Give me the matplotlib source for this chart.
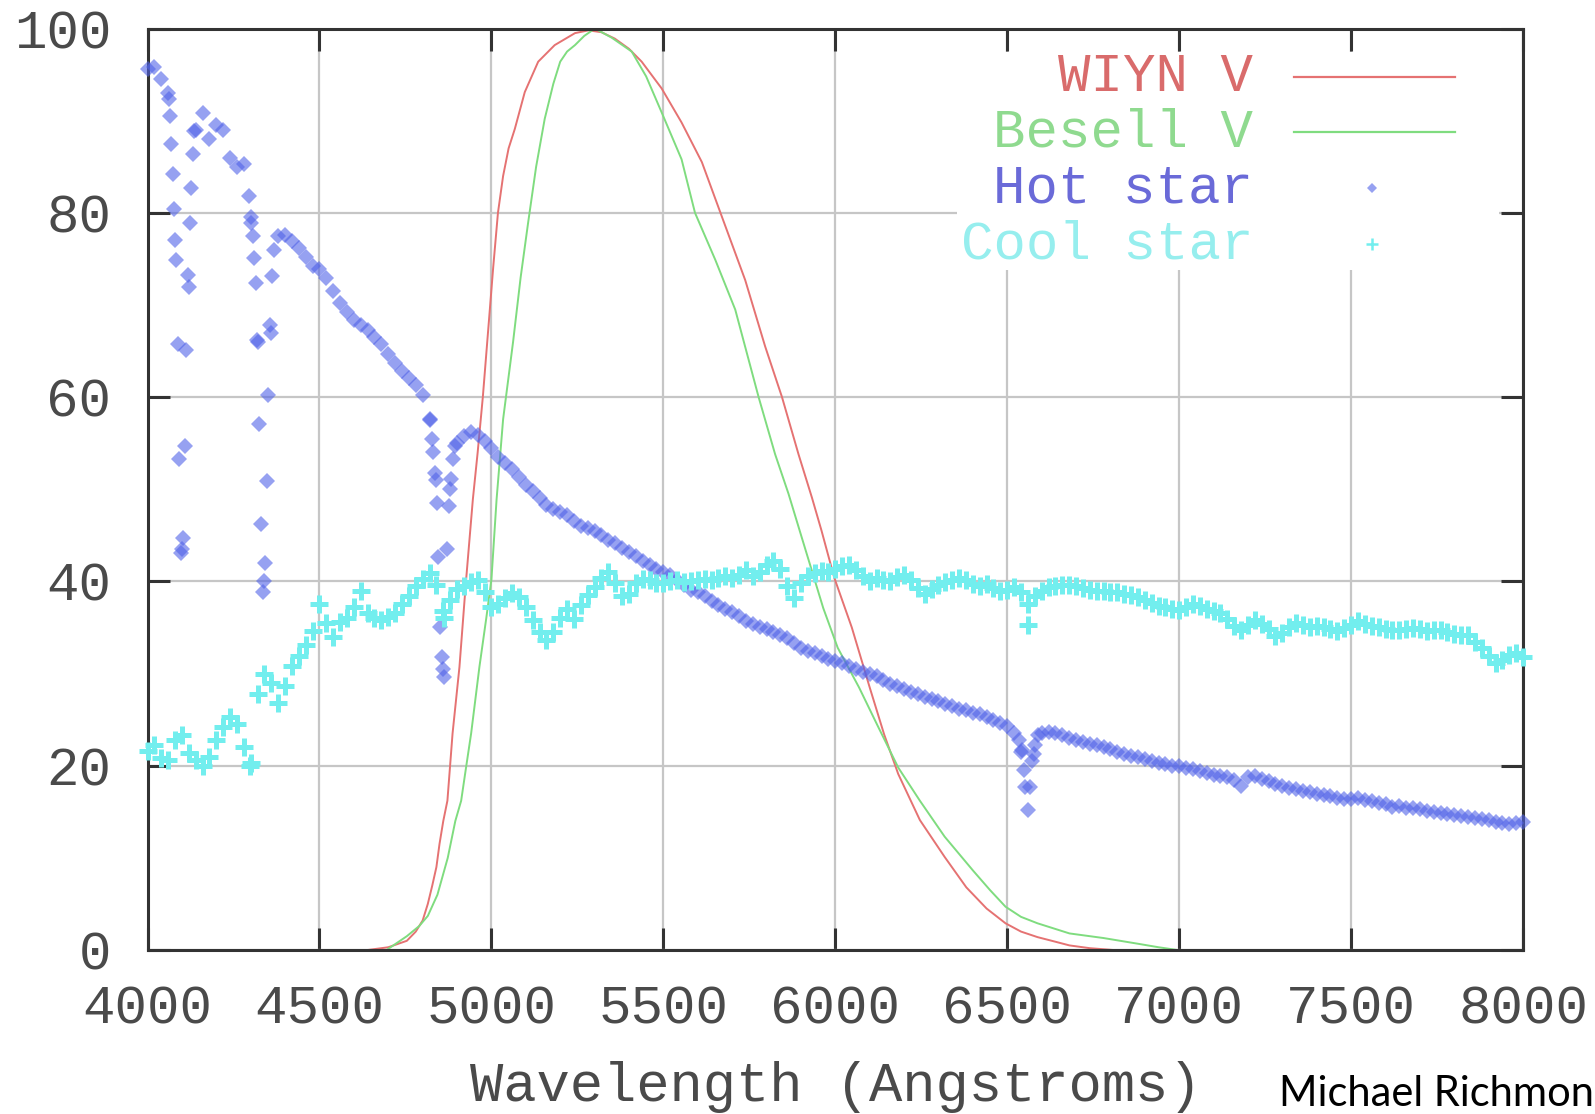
import numpy as np
import matplotlib.pyplot as plt
from matplotlib.patches import Rectangle

plt.rcParams['font.family'] = ['Liberation Mono', 'DejaVu Sans Mono']

# spectra sampled every 20 Angstroms from 4000 to 8000
star_wave = np.arange(4000, 8001, 20)

hot_flux = [
    95.6, 95.8, 94.5, 93.0, 77.0, 43.5, 72.0, 89.0, 90.8, 88.0,
    89.5, 89.0, 86.0, 85.0, 85.3, 79.5, 66.0, 40.0, 67.0, 77.5,
    77.6, 76.9, 76.2, 75.2, 74.2, 73.9, 72.9, 71.5, 70.2, 69.2,
    68.4, 67.8, 67.3, 66.5, 65.8, 64.7, 63.7, 62.8, 62.1, 61.3,
    60.2, 57.5, 51.0, 30.5, 50.0, 55.0, 55.8, 56.2, 55.9, 55.2,
    54.5, 53.5, 52.8, 52.2, 51.3, 50.5, 49.8, 49.0, 48.3, 47.9,
    47.5, 47.2, 46.6, 46.0, 45.8, 45.5, 45.0, 44.5, 44.2, 43.6,
    43.2, 42.8, 42.2, 41.8, 41.4, 41.0, 40.7, 40.2, 39.6, 39.1,
    38.8, 38.4, 37.9, 37.4, 37.0, 36.7, 36.2, 35.7, 35.4, 35.0,
    34.8, 34.5, 34.2, 33.9, 33.3, 32.8, 32.5, 32.2, 31.9, 31.6,
    31.4, 31.1, 30.8, 30.5, 30.2, 30.0, 29.7, 29.3, 28.9, 28.6,
    28.3, 28.0, 27.8, 27.5, 27.2, 27.0, 26.7, 26.5, 26.2, 26.0,
    25.7, 25.6, 25.3, 25.0, 24.6, 24.3, 23.6, 21.5, 15.2, 22.3,
    23.6, 23.7, 23.5, 23.3, 23.0, 22.8, 22.6, 22.4, 22.2, 22.0,
    21.8, 21.5, 21.3, 21.1, 20.9, 20.7, 20.5, 20.3, 20.2, 20.0,
    20.0, 19.8, 19.6, 19.4, 19.2, 19.0, 18.9, 18.8, 18.5, 17.8,
    18.8, 18.9, 18.6, 18.3, 18.0, 17.8, 17.6, 17.5, 17.3, 17.1,
    16.9, 16.8, 16.7, 16.5, 16.4, 16.4, 16.5, 16.3, 16.2, 16.0,
    15.8, 15.5, 15.6, 15.4, 15.4, 15.3, 15.1, 15.0, 14.9, 14.8,
    14.7, 14.5, 14.4, 14.3, 14.2, 14.1, 13.9, 13.8, 13.7, 13.8,
    13.9,
]

# extra samples through the Balmer lines of the hot star
hot_line_wave = [
    4063, 4066, 4069, 4073, 4077, 4083, 4088, 4092, 4096, 4103, 4108, 4112,
    4118, 4124, 4127, 4131, 4135,
    4296, 4302, 4306, 4310, 4314, 4319, 4325, 4330, 4336, 4343, 4346, 4351,
    4356, 4362, 4368,
    4820, 4826, 4831, 4836, 4841, 4846, 4851, 4857, 4863, 4870, 4876, 4882,
    4888, 4895,
    6535, 6542, 6548, 6553, 6566, 6571, 6577, 6588,
]
hot_line_flux = [
    92.4, 90.5, 87.5, 84.2, 80.4, 74.9, 65.8, 53.3, 43.1, 44.7, 54.7, 65.1,
    73.3, 78.9, 82.7, 86.4, 88.9,
    81.8, 78.9, 77.5, 75.1, 72.4, 66.2, 57.1, 46.2, 38.9, 42.0, 50.9, 60.2,
    67.8, 73.1, 76.0,
    57.6, 55.5, 54.0, 51.8, 48.5, 42.7, 35.1, 31.8, 29.6, 43.5, 48.2, 51.1,
    53.3, 54.7,
    22.8, 21.7, 19.5, 17.7, 17.7, 20.5, 21.3, 23.3,
]

cool_flux = [
    21.6, 22.2, 20.8, 20.6, 22.8, 23.3, 21.4, 20.6, 20.0, 21.0,
    22.8, 24.2, 25.3, 24.5, 22.0, 20.3, 27.8, 30.0, 29.0, 26.8,
    28.7, 30.8, 31.9, 33.1, 34.6, 37.5, 35.5, 34.0, 35.6, 36.0,
    37.2, 39.0, 36.6, 36.0, 35.8, 36.1, 36.6, 37.6, 38.4, 39.5,
    40.3, 40.9, 39.6, 36.8, 38.0, 39.2, 39.5, 39.9, 40.1, 38.9,
    37.2, 37.5, 38.2, 38.7, 38.3, 37.2, 35.8, 34.5, 33.6, 34.5,
    36.0, 37.0, 35.9, 37.4, 38.5, 39.4, 40.4, 41.0, 39.8, 38.4,
    38.6, 39.8, 40.3, 40.1, 39.8, 39.8, 40.0, 40.2, 39.9, 40.0,
    40.2, 40.3, 40.1, 40.4, 40.6, 40.4, 40.7, 41.2, 40.6, 41.0,
    41.8, 42.2, 41.3, 39.5, 38.2, 39.8, 40.6, 40.9, 41.1, 41.0,
    41.4, 41.7, 41.8, 41.2, 40.6, 40.0, 40.4, 40.2, 40.0, 40.5,
    40.7, 40.2, 39.3, 38.6, 39.2, 39.6, 39.9, 40.1, 40.4, 40.1,
    39.7, 39.5, 39.7, 39.3, 39.0, 39.1, 39.4, 38.9, 37.6, 38.4,
    39.0, 39.4, 39.5, 39.6, 39.6, 39.5, 39.3, 39.1, 39.0, 39.0,
    38.9, 38.8, 38.6, 38.5, 38.3, 38.0, 37.7, 37.3, 37.2, 37.0,
    36.9, 37.2, 37.6, 37.3, 37.0, 36.8, 36.6, 35.9, 35.2, 34.7,
    35.3, 35.8, 35.4, 34.8, 34.1, 34.4, 35.0, 35.5, 35.3, 35.1,
    35.2, 35.1, 34.8, 34.6, 34.9, 35.3, 35.7, 35.4, 35.2, 35.0,
    34.8, 34.7, 34.7, 34.8, 34.9, 34.8, 34.6, 34.7, 34.7, 34.5,
    34.3, 34.2, 34.2, 33.4, 32.8, 31.9, 31.1, 31.5, 32.0, 32.2,
    31.8,
]
cool_extra_wave = [4299, 4862, 6560]
cool_extra_flux = [20.0, 36.0, 35.3]

wiyn_wave = [4640, 4700, 4754, 4780, 4800, 4815, 4828, 4840, 4849, 4860,
             4872, 4887, 4907, 4926, 4946, 4960, 4975, 4990, 5005, 5019,
             5034, 5050, 5068, 5097, 5136, 5184, 5243, 5282, 5320, 5359,
             5400, 5437, 5495, 5553, 5612, 5670, 5738, 5796, 5845, 5893,
             5932, 5960, 5997, 6048, 6100, 6142, 6183, 6246, 6318, 6381,
             6440, 6495, 6540, 6588, 6640, 6681, 6740, 6809]
wiyn_trans = [0, 0.3, 1.0, 2.0, 3.2, 5.0, 7.0, 9.0, 11.5, 14.0,
              16.2, 23.5, 30.7, 40.0, 48.9, 54.0, 60.0, 67.0, 74.0, 80.0,
              84.0, 87.0, 89.1, 93.1, 96.4, 98.2, 99.5, 99.8, 99.6, 98.9,
              97.8, 96.4, 93.5, 89.8, 85.5, 79.6, 72.7, 65.5, 60.0, 53.8,
              49.1, 45.5, 40.4, 35.0, 28.5, 23.4, 19.1, 14.1, 10.1, 6.8,
              4.5, 2.9, 2.0, 1.4, 0.9, 0.5, 0.2, 0]

bessell_wave = [4695, 4754, 4790, 4815, 4843, 4873, 4895, 4912, 4925, 4941,
                4965, 4985, 5000, 5015, 5034, 5063, 5085, 5107, 5130, 5155,
                5180, 5200, 5220, 5243, 5270, 5301, 5350, 5408, 5450, 5495,
                5553, 5592, 5651, 5709, 5777, 5825, 5864, 5903, 5965, 6007,
                6069, 6121, 6183, 6246, 6318, 6401, 6450, 6495, 6540, 6588,
                6681, 6780, 6877, 6940, 6995]
bessell_trans = [0, 1.5, 2.6, 3.7, 6.0, 10.0, 14.0, 16.2, 19.5, 23.5,
                 30.7, 36.0, 40.2, 48.9, 57.6, 66.0, 73.0, 79.0, 85.0, 90.2,
                 94.0, 96.4, 97.5, 98.2, 99.2, 100.0, 99.0, 97.5, 94.8, 90.9,
                 85.8, 80.0, 74.9, 69.5, 60.0, 53.8, 49.5, 44.7, 37.1, 32.8,
                 28.5, 24.5, 19.8, 16.2, 12.3, 8.6, 6.5, 4.7, 3.6, 2.9,
                 1.8, 1.3, 0.7, 0.3, 0]

xticks = [4000, 4500, 5000, 5500, 6000, 6500, 7000, 7500, 8000]
yticks = [0, 20, 40, 60, 80, 100]

key_labels = ['WIYN V', 'Besell V', 'Hot star', 'Cool star']
key_text_colors = ['#d96b6b', '#8fda8f', '#6a6ad8', '#96eeee']

red = '#e57272'
green = '#7fdc7f'
blue = '#5163e8'
cyan = '#72eeee'
ink = '#4a4a4a'

fig = plt.figure(figsize=(15.95, 11.14), dpi=100)
ax = fig.add_axes([0.0925, 0.1472, 0.8624, 0.8272])

ax.plot(wiyn_wave, wiyn_trans, color=red, lw=1.4, zorder=2)
ax.plot(bessell_wave, bessell_trans, color=green, lw=1.4, zorder=2)

hot_w = np.concatenate([star_wave, hot_line_wave])
hot_f = np.concatenate([hot_flux, hot_line_flux])
ax.plot(hot_w, hot_f, ls='none', marker='D', ms=8.5, color=blue, mew=0,
        alpha=0.6, zorder=3, clip_on=False)

cool_w = np.concatenate([star_wave, cool_extra_wave])
cool_f = np.concatenate([cool_flux, cool_extra_flux])
ax.plot(cool_w, cool_f, ls='none', marker='+', ms=13, mew=3.6,
        color=cyan, zorder=4, clip_on=False)

ax.set_xlim(4000, 8000)
ax.set_ylim(0, 100)
ax.set_xticks(xticks)
ax.set_yticks(yticks)
ax.grid(True, color='#c6c6c6', lw=1.6)
ax.set_axisbelow(True)
ax.tick_params(direction='in', length=16, width=2.2, top=True, right=True,
               color='#333333', labelcolor=ink, labelsize=39)
ax.tick_params(axis='x', pad=25)
ax.tick_params(axis='y', pad=26)
for sp in ax.spines.values():
    sp.set_linewidth(2.2)
    sp.set_color('#333333')

ax.set_xlabel('Wavelength (Angstroms)', fontsize=40, color=ink, labelpad=19)

# key, gnuplot style: text on the left, sample on the right
ax.add_patch(Rectangle((0.5885, 0.738), 0.394, 0.2365, transform=ax.transAxes,
                       facecolor='white', edgecolor='none', zorder=1.5))
rows = [0.947, 0.8875, 0.8267, 0.766]
for lab, col, yy in zip(key_labels, key_text_colors, rows):
    ax.text(0.8037, yy, lab, transform=ax.transAxes, ha='right', va='center',
            fontsize=39, color=col, zorder=5)
ax.plot([0.8335, 0.9506], [rows[0]] * 2, color=red, lw=1.6,
        transform=ax.transAxes, zorder=5)
ax.plot([0.8335, 0.9506], [rows[1]] * 2, color=green, lw=1.6,
        transform=ax.transAxes, zorder=5)
ax.plot([0.8902], [rows[2]], marker='D', ms=5.5, color=blue, mew=0, alpha=0.6,
        transform=ax.transAxes, zorder=5)
ax.plot([0.8902], [rows[3]], marker='+', ms=8, mew=1.8, color=cyan,
        transform=ax.transAxes, zorder=5)

fig.text(1279 / 1595, 0.007, 'Michael Richmond', family='Lato', fontsize=30,
         color='black', ha='left', va='baseline')

fig.savefig('out.png', dpi=100)
